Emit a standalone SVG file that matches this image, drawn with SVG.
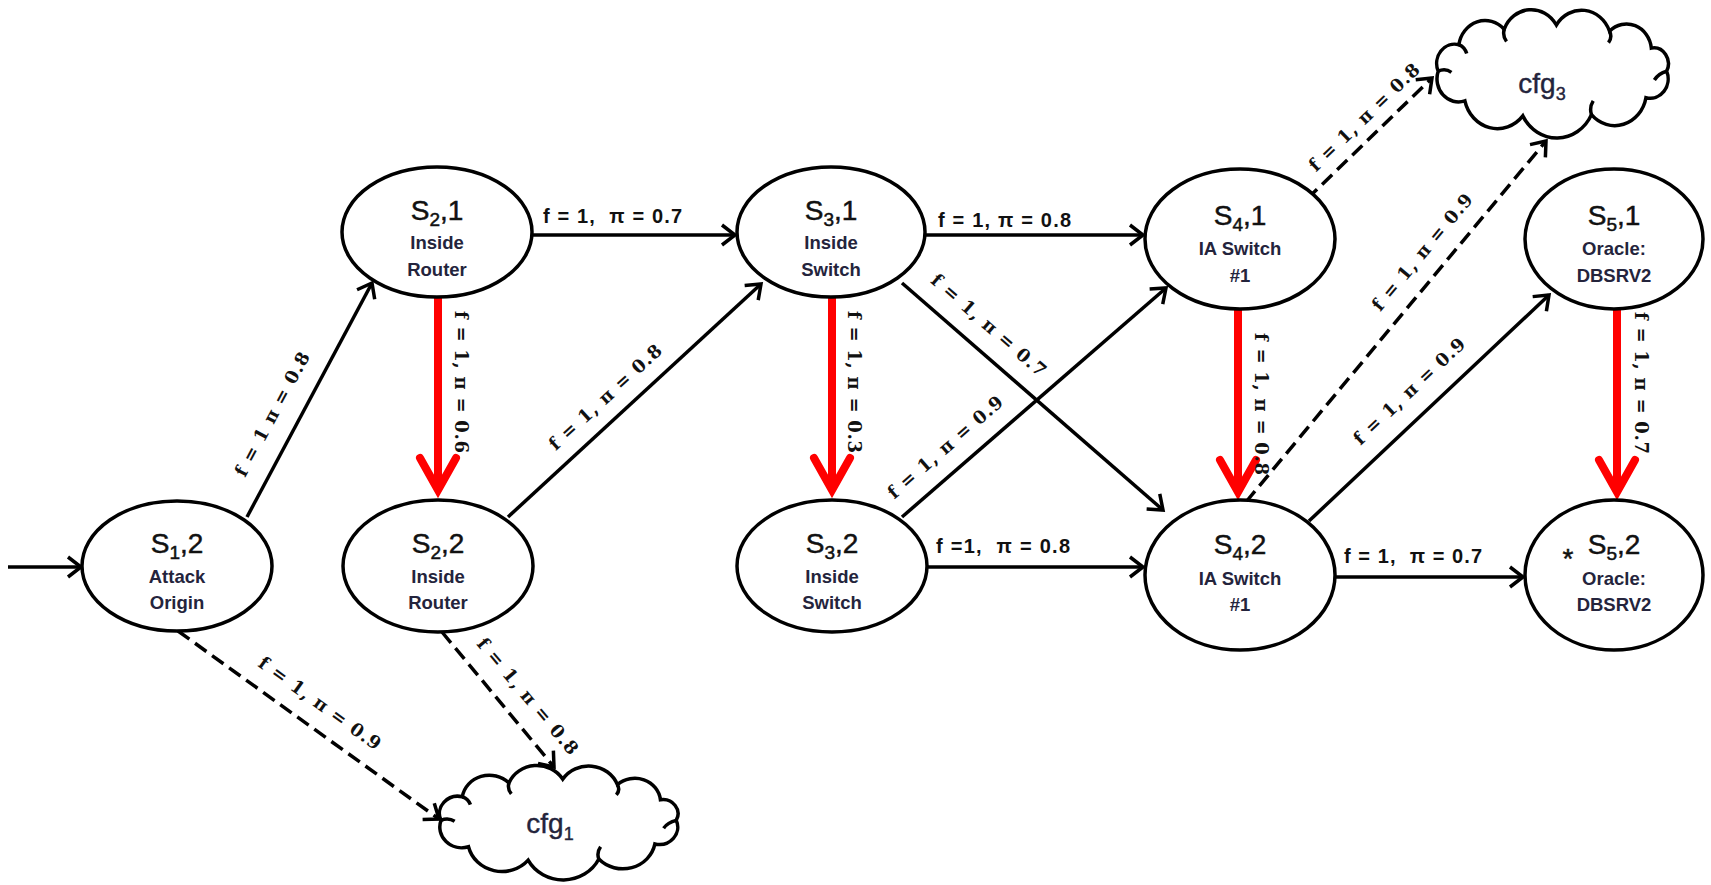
<svg xmlns="http://www.w3.org/2000/svg" width="1711" height="885" viewBox="0 0 1711 885">
<style>
.node ellipse{fill:#fff;stroke:#000;stroke-width:3.5}
.title{font-family:'Liberation Sans',Arial,sans-serif;font-size:28px;fill:#111;stroke:#111;stroke-width:0.5;text-anchor:middle}
.sub{font-family:'Liberation Sans',Arial,sans-serif;font-size:18.5px;font-weight:bold;fill:#24243c;text-anchor:middle}
.edge{fill:none;stroke:#000;stroke-width:3.5}
.dash{stroke-dasharray:14 7}
.red{fill:none;stroke:#ff0000;stroke-width:8}
.hl{font-family:'Liberation Sans',Arial,sans-serif;font-size:20px;font-weight:bold;fill:#111;white-space:pre}
.rl{font-family:'DejaVu Serif',serif;font-size:18px;font-weight:bold;fill:#111;text-anchor:middle;dominant-baseline:central;white-space:pre}
.cfg{font-family:'Liberation Sans',Arial,sans-serif;font-size:28px;fill:#24243c;stroke:#24243c;stroke-width:0.4;text-anchor:middle}
</style>
<defs>
<marker id="ah" markerUnits="userSpaceOnUse" markerWidth="40" markerHeight="40" refX="0" refY="0" orient="auto" style="overflow:visible">
<path d="M-13,-10 L0,0 L-13,10" fill="none" stroke="#000" stroke-width="3.5"/>
</marker>
<marker id="ahr" markerUnits="userSpaceOnUse" markerWidth="80" markerHeight="80" refX="0" refY="0" orient="auto" style="overflow:visible">
<path d="M-32,-18 L0,0 L-32,18" fill="none" stroke="#ff0000" stroke-width="8" stroke-linecap="round"/>
</marker>
<g id="cloudshape">
<path fill="#fff" stroke="#000" stroke-width="3.5" vector-effect="non-scaling-stroke" d="M8,58 A17.6,17.6 0 0 1 28.3,33.9 A26,26 0 0 1 72.7,19.9 A28.7,28.7 0 0 1 123.9,16 A29.3,29.3 0 0 1 176,21.6 A24.5,24.5 0 0 1 217,37 A14.4,14.4 0 0 1 232,58 A17.6,17.6 0 0 1 211.7,82.1 A31.1,31.1 0 0 1 158.3,97.5 A37.7,37.7 0 0 1 91,98.6 A32.7,32.7 0 0 1 34.2,85 A21.1,21.1 0 0 1 8,58 Z"/>
<path fill="none" stroke="#000" stroke-width="3.5" vector-effect="non-scaling-stroke" d="M8,58 Q15,55 21,59 M72.7,19.9 Q71,26 75,31 M176,21.6 Q179,27 175,32 M232,58 Q224,60 220,66 M158.3,97.5 Q156,91 160,85 M28.3,33.9 Q34,36 36,42"/>
</g>
</defs>

<g id="connectors">
<path class="edge" d="M8,567 L81,567" marker-end="url(#ah)"/>
<path class="edge" d="M247,517 L372,283" marker-end="url(#ah)"/>
<path class="edge" d="M533,235 L735,235" marker-end="url(#ah)"/>
<path class="red" d="M438,297 L438,490" marker-end="url(#ahr)"/>
<path class="edge" d="M508,517 L761,284" marker-end="url(#ah)"/>
<path class="edge" d="M925,235 L1143,235" marker-end="url(#ah)"/>
<path class="red" d="M832,297 L832,490" marker-end="url(#ahr)"/>
<path class="edge" d="M902,283 L1163,510" marker-end="url(#ah)"/>
<path class="edge" d="M902,517 L1166,288" marker-end="url(#ah)"/>
<path class="edge" d="M927,567 L1143,567" marker-end="url(#ah)"/>
<path class="red" d="M1238,309 L1238,492" marker-end="url(#ahr)"/>
<path class="edge dash" d="M1307,199 L1432,78" marker-end="url(#ah)"/>
<path class="edge dash" d="M1246,502 L1546,141" marker-end="url(#ah)"/>
<path class="edge" d="M1309,521 L1549,295" marker-end="url(#ah)"/>
<path class="edge" d="M1335,577 L1523,577" marker-end="url(#ah)"/>
<path class="red" d="M1617,309 L1617,492" marker-end="url(#ahr)"/>
<path class="edge dash" d="M178,631 L439,819" marker-end="url(#ah)"/>
<path class="edge dash" d="M442,632 L554,767" marker-end="url(#ah)"/>

<text class="rl" transform="translate(272,414) rotate(-61.8)" textLength="138">f = 1 π = 0.8</text>
<text class="hl" x="543" y="223" textLength="139">f = 1,  π = 0.7</text>
<text class="rl" transform="translate(461,382) rotate(90)" textLength="142">f = 1, π = 0.6</text>
<text class="rl" transform="translate(605,397) rotate(-42.6)" textLength="146">f = 1, π = 0.8</text>
<text class="hl" x="938" y="227" textLength="133">f = 1, π = 0.8</text>
<text class="rl" transform="translate(854,382) rotate(90)" textLength="142">f = 1, π = 0.3</text>
<text class="rl" transform="translate(989,325) rotate(41)" textLength="146">f = 1, π = 0.7</text>
<text class="rl" transform="translate(945,447) rotate(-41)" textLength="146">f = 1, π = 0.9</text>
<text class="hl" x="936" y="553" textLength="134">f =1,  π = 0.8</text>
<text class="rl" transform="translate(1261,404) rotate(90)" textLength="142">f = 1, π = 0.8</text>
<text class="rl" transform="translate(1364,117) rotate(-44)" textLength="146">f = 1, π = 0.8</text>
<text class="rl" transform="translate(1422,252) rotate(-50.3)" textLength="146">f = 1, π = 0.9</text>
<text class="rl" transform="translate(1409,391) rotate(-43.4)" textLength="146">f = 1, π = 0.9</text>
<text class="hl" x="1344" y="563" textLength="138">f = 1,  π = 0.7</text>
<text class="rl" transform="translate(1641,383) rotate(90)" textLength="142">f = 1, π = 0.7</text>
<text class="rl" transform="translate(320,703) rotate(35.7)" textLength="146">f = 1, π = 0.9</text>
<text class="rl" transform="translate(528,696) rotate(50)" textLength="146">f = 1, π = 0.8</text>
</g>

<g id="cfg1">
<use href="#cloudshape" transform="translate(432.6,763.5) scale(1.05,0.98)"/>
<text class="cfg" x="550" y="833">cfg<tspan font-size="18" dy="7">1</tspan></text>
</g>
<g id="cfg3">
<use href="#cloudshape" transform="translate(1430,7.4) scale(1.02,1.1)"/>
<text class="cfg" x="1542" y="93">cfg<tspan font-size="18" dy="7">3</tspan></text>
</g>

<g id="s1_2" class="node">
<ellipse cx="177" cy="566" rx="95" ry="65"/>
<text class="title" x="177" y="553">S<tspan font-size="19" dy="6">1</tspan><tspan dy="-6">,2</tspan></text>
<text class="sub" x="177" y="583">Attack</text>
<text class="sub" x="177" y="609">Origin</text>
</g>
<g id="s2_1" class="node">
<ellipse cx="437" cy="232" rx="95" ry="65"/>
<text class="title" x="437" y="220">S<tspan font-size="19" dy="6">2</tspan><tspan dy="-6">,1</tspan></text>
<text class="sub" x="437" y="249">Inside</text>
<text class="sub" x="437" y="276">Router</text>
</g>
<g id="s2_2" class="node">
<ellipse cx="438" cy="566" rx="95" ry="66"/>
<text class="title" x="438" y="553">S<tspan font-size="19" dy="6">2</tspan><tspan dy="-6">,2</tspan></text>
<text class="sub" x="438" y="583">Inside</text>
<text class="sub" x="438" y="609">Router</text>
</g>
<g id="s3_1" class="node">
<ellipse cx="831" cy="232" rx="94" ry="65"/>
<text class="title" x="831" y="220">S<tspan font-size="19" dy="6">3</tspan><tspan dy="-6">,1</tspan></text>
<text class="sub" x="831" y="249">Inside</text>
<text class="sub" x="831" y="276">Switch</text>
</g>
<g id="s3_2" class="node">
<ellipse cx="832" cy="566" rx="95" ry="66"/>
<text class="title" x="832" y="553">S<tspan font-size="19" dy="6">3</tspan><tspan dy="-6">,2</tspan></text>
<text class="sub" x="832" y="583">Inside</text>
<text class="sub" x="832" y="609">Switch</text>
</g>
<g id="s4_1" class="node">
<ellipse cx="1240" cy="239" rx="95" ry="70"/>
<text class="title" x="1240" y="225">S<tspan font-size="19" dy="6">4</tspan><tspan dy="-6">,1</tspan></text>
<text class="sub" x="1240" y="255">IA Switch</text>
<text class="sub" x="1240" y="282">#1</text>
</g>
<g id="s4_2" class="node">
<ellipse cx="1240" cy="575" rx="95" ry="75"/>
<text class="title" x="1240" y="554">S<tspan font-size="19" dy="6">4</tspan><tspan dy="-6">,2</tspan></text>
<text class="sub" x="1240" y="585">IA Switch</text>
<text class="sub" x="1240" y="611">#1</text>
</g>
<g id="s5_1" class="node">
<ellipse cx="1614" cy="239" rx="89" ry="70"/>
<text class="title" x="1614" y="225">S<tspan font-size="19" dy="6">5</tspan><tspan dy="-6">,1</tspan></text>
<text class="sub" x="1614" y="255">Oracle:</text>
<text class="sub" x="1614" y="282">DBSRV2</text>
</g>
<g id="s5_2" class="node">
<ellipse cx="1614" cy="575" rx="89" ry="75"/>
<text class="title" x="1614" y="554">S<tspan font-size="19" dy="6">5</tspan><tspan dy="-6">,2</tspan></text>
<text class="title" x="1568" y="568" font-size="26">*</text>
<text class="sub" x="1614" y="585">Oracle:</text>
<text class="sub" x="1614" y="611">DBSRV2</text>
</g>
</svg>
